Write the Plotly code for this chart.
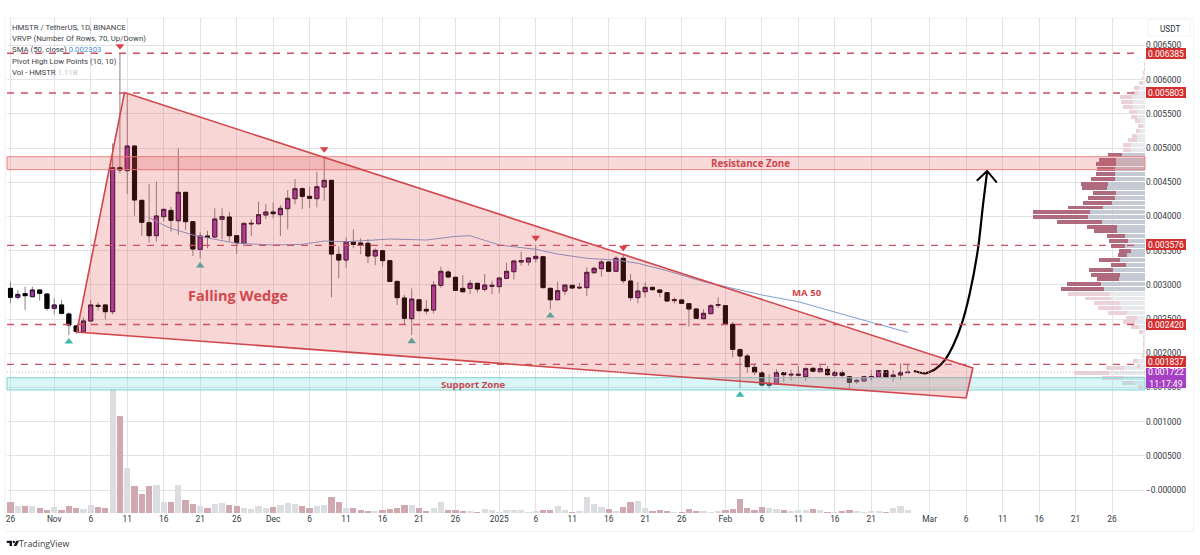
import numpy as np
import pandas as pd
import plotly.graph_objects as go

W, H = 1200, 555
L, R, T, B = 7, 1145, 18, 513

# ---- candles (price in millionths of USDT), one per day from 26 Oct 2024
start_date = "2024-10-26"
open_e6 = [2948,2817,2870,2826,2924,2865,2656,2705,2573,2398,
 2310,2471,2700,2705,2607,4712,4668,5029,4235,3908,
 3718,3996,4088,3937,4352,3923,3518,3713,3699,3957,
 3991,3718,3606,3889,3894,4020,4064,4025,4113,4259,
 4405,4293,4259,4430,4527,3445,3362,3625,3611,3606,
 3421,3499,3353,3050,2807,2505,2782,2641,2631,2992,
 3187,3109,2948,2948,3021,2934,2977,2973,3094,3192,
 3333,3333,3382,3411,2948,2782,2909,2992,2953,2958,
 3177,3236,3333,3197,3387,3055,2812,2899,2963,2924,
 2885,2768,2778,2724,2646,2505,2578,2700,2695,2422,
 2052,1959,1793,1715,1530,1550,1715,1681,1676,1657,
 1779,1730,1764,1676,1715,1657,1584,1593,1652,1652,
 1745,1657,1681,1715]
high_e6 = [3046,2924,2973,2973,2934,2875,2802,2778,2597,2412,
 2524,2778,2739,2719,5068,6384,5799,5029,4240,4469,
 4508,4103,4142,4995,4352,3923,3767,3791,4118,4118,
 4069,3728,3913,3957,4215,4181,4205,4166,4386,4547,
 4425,4434,4654,4873,4532,3557,3694,3811,3679,3669,
 3533,3509,3353,3060,2851,2948,2792,2778,3055,3265,
 3216,3119,3143,3070,3031,3158,3060,3109,3323,3362,
 3484,3401,3582,3411,2963,3046,3012,3002,3031,3255,
 3265,3362,3343,3421,3435,3158,3041,3036,2973,2934,
 2890,2817,2787,2729,2656,2641,2719,2817,2700,2461,
 2071,1988,1852,1745,1691,1764,1720,1754,1813,1793,
 1793,1827,1813,1745,1754,1667,1628,1671,1754,1754,
 1754,1754,1852,1827]
low_e6 = [2729,2787,2631,2817,2768,2622,2568,2568,2266,2281,
 2300,2461,2622,2495,2568,4629,4327,4010,3718,3616,
 3630,3923,3777,3728,3801,3421,3387,3533,3679,3665,
 3630,3450,3557,3713,3874,3962,3971,3713,3811,4176,
 4108,4127,4132,4230,2817,3094,3250,3533,3450,3314,
 3289,3265,3046,2705,2427,2266,2607,2568,2583,2958,
 3094,2909,2885,2865,2885,2899,2860,2875,3080,3080,
 3280,3280,3328,2958,2641,2778,2851,2943,2934,2836,
 3158,3119,3187,3187,3021,2768,2729,2812,2914,2817,
 2753,2729,2719,2388,2500,2500,2568,2661,2417,1939,
 1486,1715,1681,1511,1486,1535,1584,1598,1657,1593,
 1720,1706,1671,1647,1632,1472,1550,1584,1598,1642,
 1642,1584,1608,1715]
close_e6 = [2817,2860,2841,2924,2875,2656,2705,2583,2412,2320,
 2471,2705,2685,2607,4712,4678,5029,4240,3913,3718,
 4006,4103,3942,4352,3923,3523,3713,3694,3962,3996,
 3718,3616,3898,3898,4025,4064,4040,4118,4264,4405,
 4293,4264,4434,4527,3450,3362,3630,3591,3586,3421,
 3504,3353,3050,2812,2510,2792,2622,2617,2997,3197,
 3114,2919,2899,3021,2938,2997,2992,3099,3197,3348,
 3353,3392,3416,2958,2782,2914,2997,2953,2963,3182,
 3241,3333,3197,3387,3060,2812,2909,2963,2929,2890,
 2763,2782,2729,2646,2510,2583,2695,2709,2427,2056,
 1959,1803,1725,1535,1559,1720,1686,1691,1691,1774,
 1735,1774,1686,1720,1676,1574,1603,1657,1657,1745,
 1652,1681,1720,1722]
volume_b = [4.6,2.7,2.7,2.7,1.9,1.3,2.4,1.3,2.7,1.9,
 1.7,3.1,2.5,2.1,49.5,39,18.1,11,7.7,11,
 11.2,4.5,4.5,11.2,5.3,3.5,2.9,1.9,3.7,4,
 3.2,2.8,1.9,1.7,2.8,2.1,2.5,3.2,4,3.7,
 2.8,2,2.8,3.2,6.3,4.3,2.1,2.1,1.3,.9,
 .8,1.1,1.6,2,3.4,3.2,2,.8,2,4.3,
 1.4,1.2,.8,.8,.6,1.5,1.4,.5,1.1,1.1,
 1.2,.3,.8,1.4,1.2,2.8,1.1,.5,.8,6.3,
 3.5,2.3,1.5,.8,2.3,4.4,4.7,2,.9,1.1,
 .9,.3,.5,1.8,.9,.8,.5,.9,1.1,1.8,
 5.7,2.1,1.4,2.3,2.1,1.8,1.1,.9,1.1,1.4,
 1.5,1.1,.5,.3,.9,1.2,.8,.3,.9,.8,
 .5,2,2.9,1.11]

# ---- SMA 50
sma_dates = ["2024-11-14","2024-11-15","2024-11-17","2024-11-20","2024-11-23","2024-11-26",
 "2024-12-01","2024-12-05","2024-12-08","2024-12-11","2024-12-17","2024-12-22","2024-12-26",
 "2024-12-28","2025-01-01","2025-01-06","2025-01-09","2025-01-13","2025-01-17","2025-01-20",
 "2025-01-24","2025-01-29","2025-02-03","2025-02-06","2025-02-11","2025-02-16","2025-02-21","2025-02-26"]
sma_e6 = [3986,3923,3825,3728,3665,3606,3582,3591,3640,3630,3669,3655,3708,3718,3582,3518,
 3450,3387,3362,3314,3206,3046,2924,2851,2753,2597,2451,2305]

# ---- pivots
pivot_low_dates = ["2024-11-03","2024-11-21","2024-12-20","2025-01-08","2025-02-03"]
pivot_low_e6 = [2168,3280,2174,2548,1389]
pivot_high_dates = ["2024-11-10","2024-12-08","2025-01-06","2025-01-18"]
pivot_high_e6 = [6491,4985,3689,3542]

# ---- visible-range volume profile
vp_price_e6 = [6300,6230,6160,6090,6020,5950,5880,5810,5740,5670,5600,5530,5460,5390,5320,5250,5180,5110,5040,4970,
 4900,4830,4760,4690,4620,4550,4480,4410,4340,4270,4200,4130,4060,3990,3920,3850,3780,3710,3640,3570,3500,3430,
 3360,3290,3220,3150,3080,3010,2940,2870,2800,2730,2660,2590,2520,2450,2380,2310,2240,2170,2100,2030,1960,1890,
 1820,1780,1710,1640,1570,1500]
vp_up = [1,1,1,2,5,7,17,20,40,35,35,23,23,15,5,15,25,25,43,43,
 68,88,88,90,90,90,112,113,87,89,98,127,165,170,130,85,85,60,51,60,43,55,
 75,57,95,75,78,132,123,105,102,75,72,53,25,30,17,7,2,2,2,2,3,20,
 15,63,107,65,30,5]
vp_down = [0,1,2,3,5,10,15,20,35,38,30,24,20,15,15,12,15,25,24,24,
 42,50,59,54,58,73,80,75,68,81,88,105,172,167,135,89,68,55,57,42,34,25,
 63,45,74,87,67,101,130,125,79,79,70,57,32,35,26,10,5,3,3,3,7,17,
 10,54,106,65,40,15]

# ---- wedge, zones, levels
wedge_dates = ["2024-11-10_15:00","2025-03-06_22:00","2025-03-06_00:00","2024-11-04_02:00"]
wedge_e6 = [5811,1784,1345,2310]
resistance_e6 = (4683,4873)
support_e6 = (1462,1642)
level_e6 = [6385,5803,3576,2420,1837]
tag_y_px = [53.3,92.7,245,324,361.5]
last_e6 = 1722

arrow_dates = ["2025-02-26 20:00","2025-02-28 09:00","2025-03-01 18:00","2025-03-03 02:00","2025-03-04 06:00",
 "2025-03-05 10:00","2025-03-06 12:00","2025-03-07 16:00","2025-03-08 08:00","2025-03-08 21:00"]
arrow_e6 = [1740,1706,1765,1901,2120,2437,2876,3557,4192,4653]
head_dates = ["2025-03-07 11:00","2025-03-08 21:00","2025-03-10 05:00"]
head_e6 = [4522,4664,4493]

y_ticks_e6 = [6500,6000,5500,5000,4500,4000,3500,3000,2500,2000,1500,1000,500,0]
y_tick_text = ["0.006500","0.006000","0.005500","0.005000","0.004500","0.004000","0.003500","0.003000",
               "0.002500","0.002000","0.001500","0.001000","0.000500","−0.000000"]
x_tick_dates = ["2024-10-26","2024-11-01","2024-11-06","2024-11-11","2024-11-16","2024-11-21","2024-11-26",
 "2024-12-01","2024-12-06","2024-12-11","2024-12-16","2024-12-21","2024-12-26",
 "2025-01-01","2025-01-06","2025-01-11","2025-01-16","2025-01-21","2025-01-26",
 "2025-02-01","2025-02-06","2025-02-11","2025-02-16","2025-02-21",
 "2025-03-01","2025-03-06","2025-03-11","2025-03-16","2025-03-21","2025-03-26"]
x_tick_text = ["26","Nov","6","11","16","21","26","Dec","6","11","16","21","26","2025","6","11","16","21","26",
 "Feb","6","11","16","21","Mar","6","11","16","21","26"]
legend_lines = ["HMSTR / TetherUS, 1D, BINANCE",
 "VRVP (Number Of Rows, 70, Up/Down)",
 "SMA (50, close) <span style='color:#4a8fd8'>0.002303</span>",
 "Pivot High Low Points (10, 10)",
 "Vol - HMSTR <span style='color:#c4c8d0'>1.11B</span>"]

# ---- helpers
to_price = lambda a: np.array(a, dtype=float) / 1e6
px = lambda v: (v - L) / (R - L)
py = lambda v: (B - v) / (B - T)

O, Hi, Lo, C = map(to_price, (open_e6, high_e6, low_e6, close_e6))
dates = pd.date_range(start_date, periods=len(O))
down = C < O
vol_colors = ["#cfa8b0" if d else "#dbdde1" for d in down]

RED = "#cc5260"
fig = go.Figure()

# volume pane
fig.add_bar(x=dates, y=volume_b, yaxis="y2", marker=dict(color=vol_colors, line_width=0),
            width=0.85 * 86400000, hoverinfo="skip", showlegend=False)

# wicks then bodies
fig.add_candlestick(x=dates, open=O, high=Hi, low=Lo, close=C, whiskerwidth=0,
    increasing=dict(line=dict(color="#8d7f86", width=1), fillcolor="#a23aa8"),
    decreasing=dict(line=dict(color="#8d7f86", width=1), fillcolor="#000000"),
    hoverinfo="skip", showlegend=False)
fig.add_candlestick(x=dates, open=O, high=np.maximum(O, C), low=np.minimum(O, C), close=C, whiskerwidth=0,
    increasing=dict(line=dict(color="#2b1030", width=1), fillcolor="#a23aa8"),
    decreasing=dict(line=dict(color="#000000", width=1), fillcolor="#000000"),
    hoverinfo="skip", showlegend=False)

# SMA
fig.add_scatter(x=sma_dates, y=to_price(sma_e6), mode="lines", line=dict(color="#7d9ed2", width=1),
                hoverinfo="skip", showlegend=False)

# pivot markers
fig.add_scatter(x=pivot_low_dates, y=to_price(pivot_low_e6), mode="markers",
    marker=dict(symbol="triangle-up", size=7.5, color="#3fb9ae"), hoverinfo="skip", showlegend=False)
fig.add_scatter(x=pivot_high_dates, y=to_price(pivot_high_e6), mode="markers",
    marker=dict(symbol="triangle-down", size=7.5, color="#d8404a"), hoverinfo="skip", showlegend=False)

# volume profile on a reversed hidden axis
vp_p = to_price(vp_price_e6)
value_area = (vp_p >= 0.0029) & (vp_p <= 0.0049)
fig.add_bar(x=vp_up, y=vp_p, orientation="h", xaxis="x2", width=0.000058,
    marker=dict(color=["#c5c9d3" if v else "#e8e9ed" for v in value_area], line_width=0),
    hoverinfo="skip", showlegend=False)
fig.add_bar(x=vp_down, y=vp_p, base=vp_up, orientation="h", xaxis="x2", width=0.000058,
    marker=dict(color=["#b06a7e" if v else "#ead2d8" for v in value_area], line_width=0),
    hoverinfo="skip", showlegend=False)

# arrow
fig.add_scatter(x=arrow_dates, y=to_price(arrow_e6), mode="lines",
    line=dict(color="#000000", width=2.2, shape="spline", smoothing=0.6), hoverinfo="skip", showlegend=False)
fig.add_scatter(x=head_dates, y=to_price(head_e6), mode="lines",
    line=dict(color="#000000", width=2), hoverinfo="skip", showlegend=False)

shapes = []
# outer frame
shapes.append(dict(type="rect", xref="paper", yref="paper", x0=px(5), x1=px(1193.7), y0=py(531.5), y1=py(18),
                   line=dict(color="#f1f2f4", width=1), layer="below"))
shapes.append(dict(type="rect", xref="paper", yref="paper", x0=px(1148), x1=px(1190), y0=py(36), y1=py(20),
                   line=dict(color="#f1f2f4", width=1), layer="below"))
# zones
shapes.append(dict(type="rect", xref="paper", yref="y", x0=0, x1=1, y0=support_e6[0]/1e6, y1=support_e6[1]/1e6,
                   fillcolor="rgba(125,222,228,0.30)", line=dict(color="#86d0d0", width=1), layer="above"))
shapes.append(dict(type="rect", xref="paper", yref="y", x0=0, x1=1, y0=resistance_e6[0]/1e6, y1=resistance_e6[1]/1e6,
                   fillcolor="rgba(224,80,80,0.22)", line=dict(color="#ea8486", width=1), layer="above"))
# wedge
wy = to_price(wedge_e6)
path = "M " + " L ".join(f"{a},{b}" for a, b in zip(wedge_dates, wy)) + " Z"
shapes.append(dict(type="path", xref="x", yref="y", path=path, fillcolor="rgba(222,70,70,0.22)",
                   line=dict(color="#d1474c", width=1.6), layer="above"))
# levels
for lv in level_e6:
    shapes.append(dict(type="line", xref="paper", yref="y", x0=0, x1=px(1136), y0=lv/1e6, y1=lv/1e6,
                       line=dict(color=RED, width=1.4, dash="7px,7px"), layer="above"))
shapes.append(dict(type="line", xref="paper", yref="y", x0=0, x1=1, y0=last_e6/1e6, y1=last_e6/1e6,
                   line=dict(color="#cbbccf", width=1, dash="1px,2px"), layer="above"))
# TradingView logo
def logo(pts):
    return "M " + " L ".join(f"{px(a)},{py(b)}" for a, b in pts) + " Z"
shapes.append(dict(type="path", xref="paper", yref="paper", fillcolor="#131722", line_width=0,
                   path=logo([(6.7,540.7),(12,540.7),(12,546),(9.5,546),(9.5,543),(6.7,543)])))
shapes.append(dict(type="path", xref="paper", yref="paper", fillcolor="#131722", line_width=0,
                   path=logo([(19.2,540.7),(16.5,546),(13.6,546),(16.2,540.7)])))
shapes.append(dict(type="circle", xref="paper", yref="paper", fillcolor="#131722", line_width=0,
                   x0=px(12.6), x1=px(15), y0=py(543.2), y1=py(540.8)))

ann = []
def text(x, y, s, size, color, anchor="center", family="Open Sans"):
    ann.append(dict(xref="paper", yref="paper", x=px(x), y=py(y), text=s, showarrow=False, xanchor=anchor,
                    yanchor="middle", font=dict(size=size, color=color, family=family)))

for yy, line in zip([27, 38.5, 50, 61, 72], legend_lines):
    text(10, yy, line, 7.8, "#3c3f46", "left", family="Roboto")
text(238, 295, "<b>Falling Wedge</b>", 14.5, "#d1474c")
text(751, 163, "<b>Resistance Zone</b>", 9.8, "#c9474c")
text(473, 384, "<b>Support Zone</b>", 9.6, "#c9474c")
text(807, 292, "<b>MA 50</b>", 9.6, "#d1474c")
text(1170, 29, "USDT", 8.2, "#2a2e39", family="Roboto")
text(44.5, 543.5, "TradingView", 8.8, "#3a3d45")

tag_text = ["0.006385","0.005803","0.003576","0.002420","0.001837"]
for yy, s in zip(tag_y_px, tag_text):
    ann.append(dict(xref="paper", yref="paper", x=px(1145.5), y=py(yy), text=s, showarrow=False, xanchor="left",
                    yanchor="middle", width=40, height=11, bgcolor="#d32f2f", borderwidth=0, borderpad=0,
                    font=dict(size=8.6, color="#ffffff", family="Roboto")))
ann.append(dict(xref="paper", yref="paper", x=px(1145.5), y=py(377.5), text="0.001722<br>11:17:49", showarrow=False,
                xanchor="left", yanchor="middle", width=40, height=20, bgcolor="#a63fc4", borderwidth=0, borderpad=0,
                font=dict(size=8.6, color="#ffffff", family="Roboto")))

x_days = (R - L) / 7.295
x0 = pd.Timestamp(start_date) + pd.Timedelta(days=(L - 10.5) / 7.295)
x1 = x0 + pd.Timedelta(days=x_days)
y_low = (490 - B) / 68400
y_high = (490 - T) / 68400

GRID = "#e2e3e8"
fig.update_layout(
    width=W, height=H, margin=dict(l=L, r=W - R, t=T, b=H - B, pad=0),
    paper_bgcolor="#ffffff", plot_bgcolor="#ffffff",
    showlegend=False, barmode="overlay", bargap=0, boxgap=0.2,
    xaxis=dict(type="date", range=[x0, x1], tickmode="array", tickvals=x_tick_dates, ticktext=x_tick_text,
               showgrid=True, gridcolor=GRID, gridwidth=1, zeroline=False, showline=False,
               rangeslider=dict(visible=False), tickfont=dict(size=8.4, color="#333740", family="Roboto"),
               tickangle=0, ticklen=0),
    xaxis2=dict(overlaying="x", anchor="y", range=[(R - L) * 3, 0], visible=False, fixedrange=True),
    yaxis=dict(range=[y_low, y_high], side="right", tickmode="array", tickvals=to_price(y_ticks_e6),
               ticktext=y_tick_text, showgrid=True, gridcolor=GRID, gridwidth=1, zeroline=False, showline=False,
               tickfont=dict(size=8.4, color="#333740", family="Roboto"), ticklen=0),
    yaxis2=dict(overlaying="y", anchor="x", range=[0, (B - T) * 0.4], visible=False, fixedrange=True),
    shapes=shapes, annotations=ann,
)

fig.write_html("out.html", config=dict(displayModeBar=False, staticPlot=True),
               post_script="document.body.style.margin='0';document.body.style.overflow='hidden';")
